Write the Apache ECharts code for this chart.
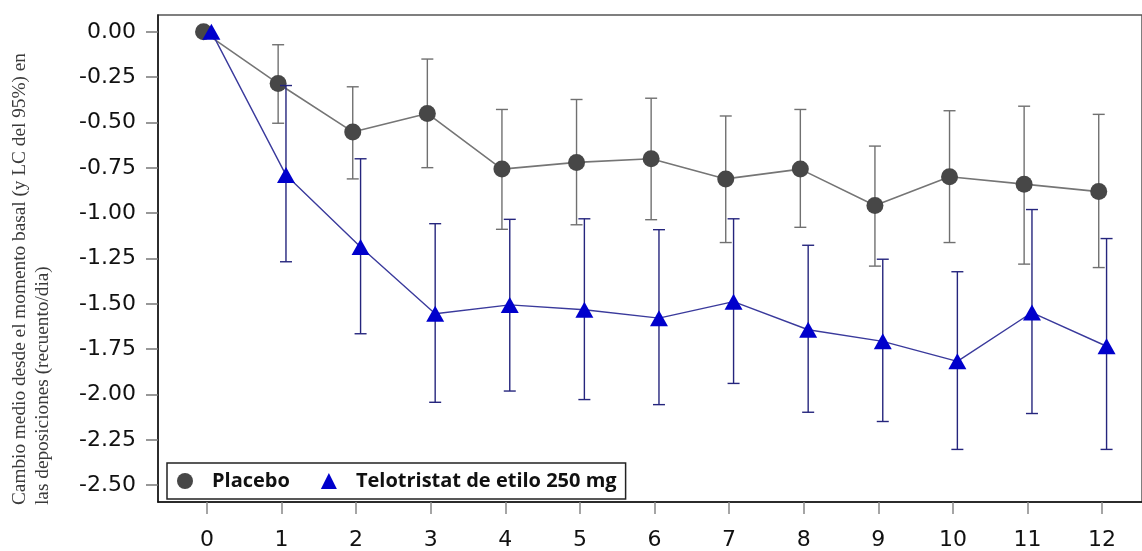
<!DOCTYPE html>
<html>
<head>
<meta charset="utf-8">
<script src="https://cdn.jsdelivr.net/npm/echarts@6/dist/echarts.min.js"></script>
<style>html,body{margin:0;padding:0;background:#fff}#c{width:1142px;height:551px}</style>
</head>
<body>
<div id="c"></div>
<script>
const weeks = [0,1,2,3,4,5,6,7,8,9,10,11,12];
const yTicks = [0,-0.25,-0.5,-0.75,-1,-1.25,-1.5,-1.75,-2,-2.25,-2.5];
const placeboMean = [0,-0.285,-0.552,-0.45,-0.757,-0.72,-0.70,-0.811,-0.757,-0.958,-0.799,-0.84,-0.881];
const placeboLow  = [null,-0.504,-0.811,-0.749,-1.089,-1.064,-1.036,-1.162,-1.078,-1.292,-1.162,-1.281,-1.30];
const placeboHigh = [null,-0.071,-0.303,-0.15,-0.428,-0.373,-0.366,-0.464,-0.428,-0.63,-0.435,-0.41,-0.455];
const teloMean = [0,-0.79,-1.186,-1.555,-1.506,-1.533,-1.579,-1.488,-1.643,-1.707,-1.817,-1.548,-1.734];
const teloLow  = [null,-1.268,-1.665,-2.043,-1.981,-2.028,-2.056,-1.939,-2.098,-2.149,-2.303,-2.105,-2.303];
const teloHigh = [null,-0.296,-0.70,-1.058,-1.034,-1.031,-1.091,-1.031,-1.177,-1.254,-1.323,-0.98,-1.14];
const seriesNames = ['Placebo','Telotristat de etilo 250 mg'];
const yTitle1 = 'Cambio medio desde el momento basal (y LC del 95%) en';
const yTitle2 = 'las deposiciones (recuento/dia)';

const dodgeP = -0.045, dodgeT = 0.06;
function pts(mean, d){ return weeks.map((w,i)=>[w+d, mean[i]]); }
function errs(lo, hi, d){ return weeks.map((w,i)=>[w+d, lo[i], hi[i]]).filter(r=>r[1]!=null); }
function errRender(color){
  return function(params, api){
    const x = api.value(0);
    const a = api.coord([x, api.value(1)]);
    const b = api.coord([x, api.value(2)]);
    const w = 6, st = {stroke: color, lineWidth: 1.4};
    return {type:'group', children:[
      {type:'line', shape:{x1:a[0],y1:a[1],x2:b[0],y2:b[1]}, style:st},
      {type:'line', shape:{x1:a[0]-w,y1:a[1],x2:a[0]+w,y2:a[1]}, style:st},
      {type:'line', shape:{x1:b[0]-w,y1:b[1],x2:b[0]+w,y2:b[1]}, style:st}
    ]};
  };
}
const labelFont = {fontFamily:'DejaVu Sans', fontSize:22, color:'#111'};
const chart = echarts.init(document.getElementById('c'), null, {renderer:'canvas'});
chart.setOption({
  backgroundColor:'#fff',
  animation:false,
  grid:{left:158, top:15, right:-2, bottom:46, show:true, borderColor:'#555', borderWidth:1.5, backgroundColor:'transparent'},
  xAxis:{type:'value', min:-0.6555, max:12.535,
    axisLine:{show:true, onZero:false, lineStyle:{color:'#111', width:1.5}},
    axisTick:{show:true, length:12, customValues:weeks, lineStyle:{color:'#888', width:1.5}},
    axisLabel:Object.assign({customValues:weeks, margin:27, formatter:v=>String(v)}, labelFont),
    splitLine:{show:false}},
  yAxis:{type:'value', min:-2.593, max:0.093,
    axisLine:{show:true, onZero:false, lineStyle:{color:'#111', width:1.5}},
    axisTick:{show:true, length:12, customValues:yTicks, lineStyle:{color:'#777', width:1.5}},
    axisLabel:Object.assign({customValues:yTicks, margin:22, formatter:v=>(Math.abs(v)<1e-9?0:v).toFixed(2)}, labelFont),
    splitLine:{show:false}},
  legend:{left:167, top:463, orient:'horizontal', padding:[8,9,8,10], itemGap:31,
    itemWidth:16, itemHeight:16, borderColor:'#222', borderWidth:1.5, backgroundColor:'#fff',
    data:[{name:seriesNames[0], icon:'circle'},{name:seriesNames[1], icon:'triangle'}],
    formatter:n=>'{g|}'+n,
    textStyle:{fontFamily:'Open Sans', fontWeight:'bold', fontSize:20, color:'#111',
      rich:{g:{width:14}}}},
  series:[
    {type:'custom', name:'pErr', renderItem:errRender('#707070'), data:errs(placeboLow, placeboHigh, dodgeP), encode:{x:0,y:[1,2]}, z:2, silent:true},
    {type:'line', name:seriesNames[0], data:pts(placeboMean, dodgeP), symbol:'circle', symbolSize:17,
      itemStyle:{color:'#474747'}, lineStyle:{color:'#757575', width:1.6}, z:3},
    {type:'custom', name:'tErr', renderItem:errRender('#25257d'), data:errs(teloLow, teloHigh, dodgeT), encode:{x:0,y:[1,2]}, z:4, silent:true},
    {type:'line', name:seriesNames[1], data:pts(teloMean, dodgeT), symbol:'triangle', symbolSize:[18,16],
      itemStyle:{color:'#0000cc'}, lineStyle:{color:'#3a3a9c', width:1.4}, z:5}
  ],
  graphic:[
    {type:'text', x:20, y:505, rotation:Math.PI/2, style:{text:yTitle1, font:'19.3px "Liberation Serif"', fill:'#3a3a3a', textAlign:'left', textVerticalAlign:'middle'}},
    {type:'text', x:43, y:505, rotation:Math.PI/2, style:{text:yTitle2, font:'19.3px "Liberation Serif"', fill:'#3a3a3a', textAlign:'left', textVerticalAlign:'middle'}}
  ]
});
</script>
</body>
</html>
